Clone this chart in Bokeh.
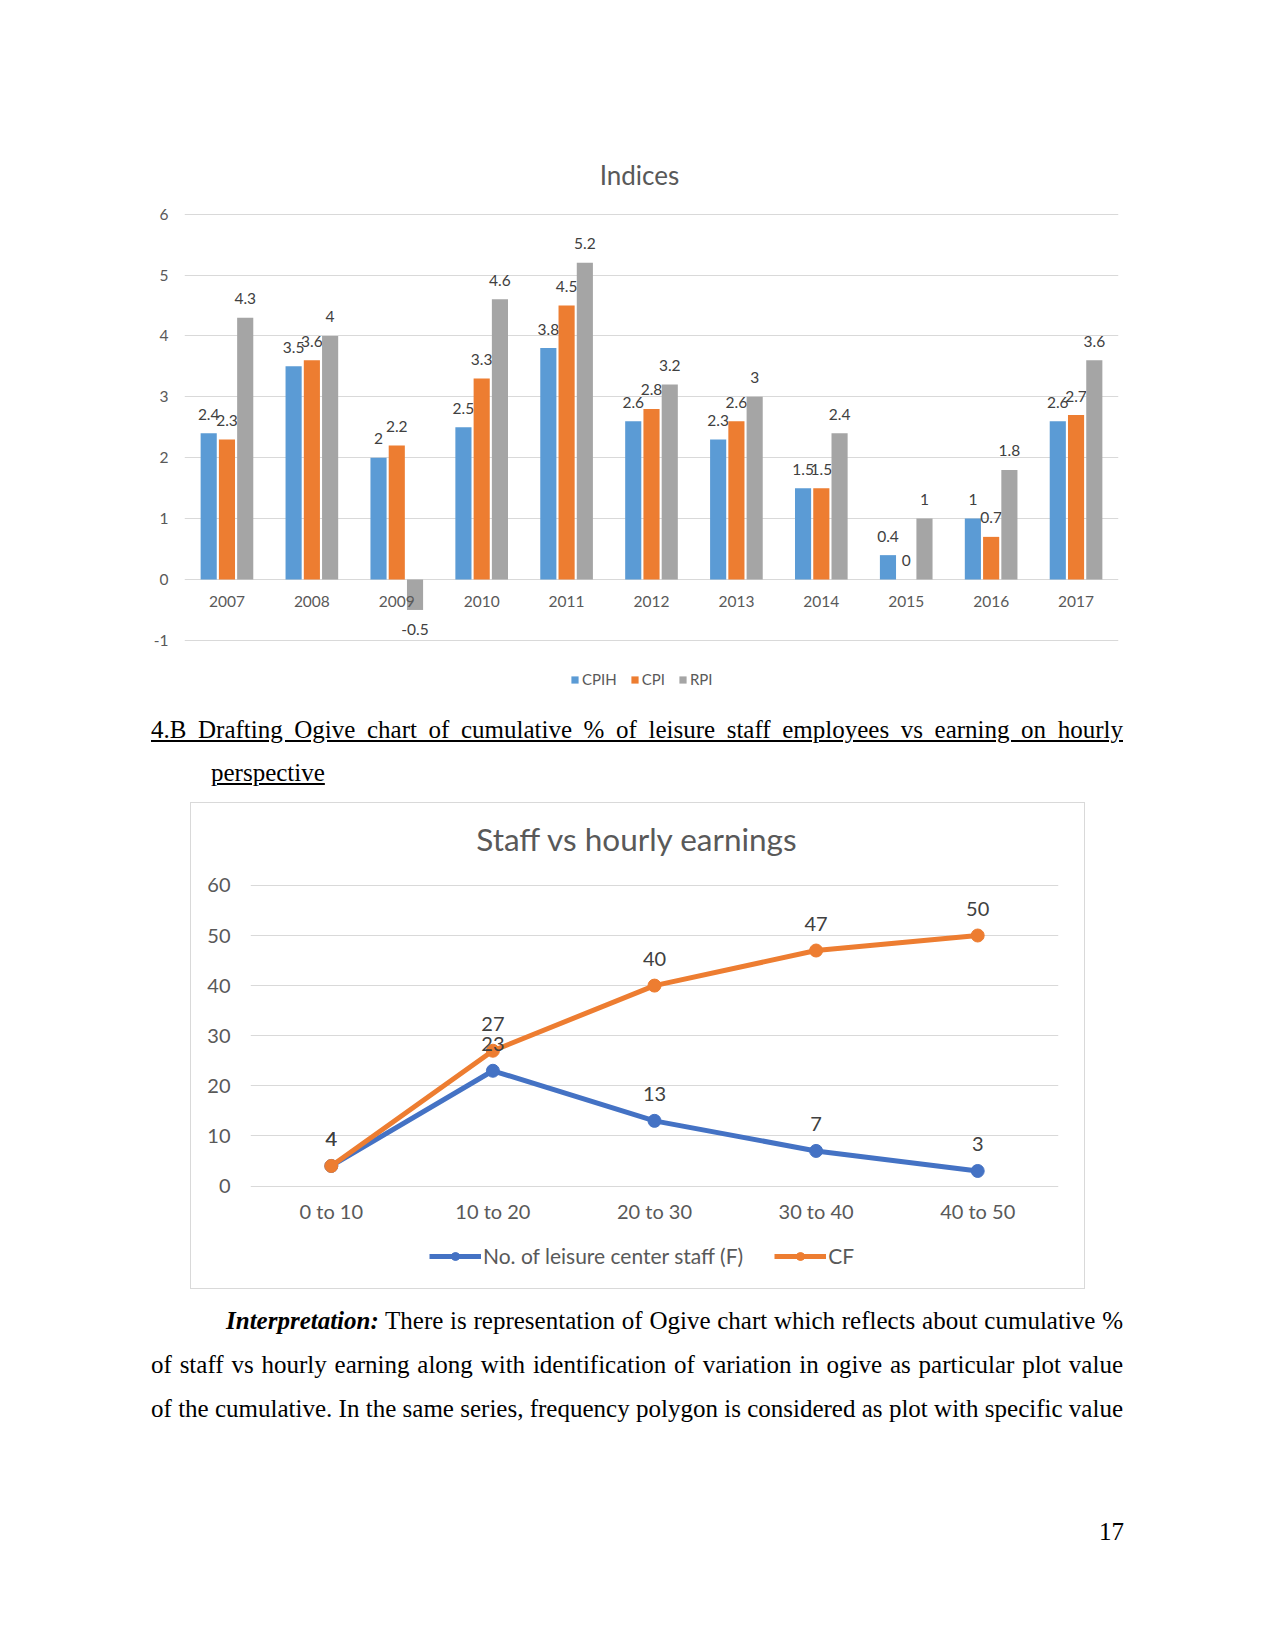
from bokeh.plotting import figure
from bokeh.models import (FactorRange, Range1d, FixedTicker, Div, Spacer,
                          ColumnDataSource, Legend, LegendItem)
from bokeh.layouts import column, row
from bokeh.transform import dodge
from bokeh.core.properties import value
from bokeh.embed import file_html
from bokeh.resources import INLINE

# ---------------- data ----------------
years = ["2007", "2008", "2009", "2010", "2011", "2012", "2013", "2014", "2015", "2016", "2017"]
cpih = [2.4, 3.5, 2.0, 2.5, 3.8, 2.6, 2.3, 1.5, 0.4, 1.0, 2.6]
cpi = [2.3, 3.6, 2.2, 3.3, 4.5, 2.8, 2.6, 1.5, 0.0, 0.7, 2.7]
rpi = [4.3, 4.0, -0.5, 4.6, 5.2, 3.2, 3.0, 2.4, 1.0, 1.8, 3.6]
series_names = ["CPIH", "CPI", "RPI"]
indices_ticks = [-1, 0, 1, 2, 3, 4, 5, 6]

bands = ["0 to 10", "10 to 20", "20 to 30", "30 to 40", "40 to 50"]
staff_f = [4, 23, 13, 7, 3]
cum_f = [4, 27, 40, 47, 50]
staff_ticks = [0, 10, 20, 30, 40, 50, 60]

# ---------------- styles ----------------
FONT = "Lato"
AXIS_GREY = "#595959"
LABEL_GREY = "#404040"
GRID = "#D9D9D9"
BAR_COLORS = ["#5B9BD5", "#ED7D31", "#A5A5A5"]
LINE_COLORS = ["#4472C4", "#ED7D31"]


def fmt(v):
    return str(int(v)) if float(v).is_integer() else str(v)


# ================= Chart 1 : Indices =================
H1 = 700
zero_px, ppu = 579.0, 60.9
y1_start = -(H1 - zero_px) / ppu
y1_end = zero_px / ppu

p1 = figure(width=1275, height=H1, title=None,
            x_range=FactorRange(factors=years, range_padding=0),
            y_range=Range1d(y1_start, y1_end),
            output_backend="svg", toolbar_location=None,
            min_border_left=184, min_border_right=157,
            min_border_top=0, min_border_bottom=0)
p1.outline_line_color = None
p1.xaxis.visible = False
p1.xgrid.visible = False
p1.yaxis.ticker = FixedTicker(ticks=indices_ticks)
p1.ygrid.ticker = FixedTicker(ticks=indices_ticks)
p1.yaxis.major_label_overrides = {t: str(t) for t in indices_ticks}
p1.ygrid.grid_line_color = GRID
p1.yaxis.axis_line_color = None
p1.yaxis.major_tick_line_color = None
p1.yaxis.minor_tick_line_color = None
p1.yaxis.major_tick_out = 0
p1.yaxis.major_tick_in = 0
p1.yaxis.major_label_standoff = 16
p1.yaxis.major_label_text_font = FONT
p1.yaxis.major_label_text_font_size = "15.5px"
p1.yaxis.major_label_text_color = AXIS_GREY

src1 = ColumnDataSource(dict(year=years, cpih=cpih, cpi=cpi, rpi=rpi))
offsets = [-0.215, 0.0, 0.215]
cols = ["cpih", "cpi", "rpi"]
items = []
for name, col, off, color, vals in zip(series_names, cols, offsets, BAR_COLORS, [cpih, cpi, rpi]):
    r = p1.vbar(x=dodge("year", off, range=p1.x_range), top=col, bottom=0, width=0.19,
                source=src1, fill_color=color, line_color=None)
    items.append(LegendItem(label=name, renderers=[r]))
    lsrc = ColumnDataSource(dict(year=years, v=vals, t=[fmt(v) for v in vals],
                                 yo=[-19 if v >= 0 else 20 for v in vals]))
    p1.text(x=dodge("year", off, range=p1.x_range), y="v", text="t", y_offset="yo",
            source=lsrc, text_align="center", text_baseline="middle",
            text_font=value(FONT), text_font_size="15.5px", text_color=LABEL_GREY)

# category labels along the zero line
p1.text(x=years, y=[0] * len(years), text=years, y_offset=22,
        text_align="center", text_baseline="middle",
        text_font=value(FONT), text_font_size="15.5px", text_color=AXIS_GREY)
# title
p1.text(x=[years[len(years) // 2]], y=[(zero_px - 174) / ppu], text=["Indices"], x_offset=-12,
        text_align="center", text_baseline="middle",
        text_font=value(FONT), text_font_size="26px", text_color=AXIS_GREY)

leg1 = Legend(items=items, orientation="horizontal", location=(386, 12),
              glyph_width=9, glyph_height=9, label_standoff=3, spacing=13,
              padding=0, margin=0, border_line_color=None, background_fill_alpha=0,
              label_text_font=FONT, label_text_font_size="15px", label_text_color=AXIS_GREY,
              label_height=9)
p1.add_layout(leg1)

# ================= Heading text =================
heading = Div(width=1275, height=102, margin=0, text=(
    '<div style="position:relative;width:1275px;height:102px;font-family:\'Liberation Serif\';'
    'font-size:25px;color:#000;">'
    '<div style="position:absolute;left:151px;top:8px;box-sizing:content-box;width:912px;padding-left:60px;'
    'text-indent:-60px;line-height:43px;text-align:justify;text-align-last:justify;'
    'text-decoration:underline;">'
    '4.B Drafting Ogive chart of cumulative % of leisure staff employees vs earning on hourly'
    '<br>perspective</div></div>'))

# ================= Chart 2 : Staff vs hourly earnings =================
W2, H2 = 893, 485
top_page, bottom_page = 803.0, 1288.0
zero2, ppu2 = 1185.5, 5.01
y2_start = -(bottom_page - zero2) / ppu2
y2_end = (zero2 - top_page) / ppu2

p2 = figure(width=W2, height=H2, title=None,
            x_range=FactorRange(factors=bands, range_padding=0),
            y_range=Range1d(y2_start, y2_end),
            output_backend="svg", toolbar_location=None,
            min_border_left=59, min_border_right=26,
            min_border_top=0, min_border_bottom=0)
p2.outline_line_color = None
p2.xaxis.visible = False
p2.xgrid.visible = False
p2.yaxis.ticker = FixedTicker(ticks=staff_ticks)
p2.ygrid.ticker = FixedTicker(ticks=staff_ticks)
p2.ygrid.grid_line_color = GRID
p2.yaxis.axis_line_color = None
p2.yaxis.major_tick_line_color = None
p2.yaxis.minor_tick_line_color = None
p2.yaxis.major_tick_out = 0
p2.yaxis.major_tick_in = 0
p2.yaxis.major_label_standoff = 20
p2.yaxis.major_label_text_font = FONT
p2.yaxis.major_label_text_font_size = "20px"
p2.yaxis.major_label_text_color = AXIS_GREY

legend_names = ["No. of leisure center staff (F)", "CF"]
for vals, color, lname in zip([staff_f, cum_f], LINE_COLORS, legend_names):
    p2.line(x=bands, y=vals, line_color=color, line_width=5, line_join="round",
            legend_label=lname)
    p2.scatter(x=bands, y=vals, size=13, fill_color=color, line_color=color,
               legend_label=lname)
for vals in [staff_f, cum_f]:
    p2.text(x=bands, y=vals, text=[fmt(v) for v in vals], y_offset=-27,
            text_align="center", text_baseline="middle",
            text_font=value(FONT), text_font_size="20px", text_color=LABEL_GREY)

p2.text(x=bands, y=[0] * len(bands), text=bands, y_offset=25,
        text_align="center", text_baseline="middle",
        text_font=value(FONT), text_font_size="20px", text_color=AXIS_GREY)
p2.text(x=[bands[2]], y=[(zero2 - 838) / ppu2], text=["Staff vs hourly earnings"], x_offset=-17,
        text_align="center", text_baseline="middle",
        text_font=value(FONT), text_font_size="31.5px", text_color=AXIS_GREY)

lg2 = p2.legend[0]
lg2.orientation = "horizontal"
lg2.location = (179, 20)
lg2.glyph_width = 52
lg2.glyph_height = 20
lg2.label_standoff = 2
lg2.spacing = 31
lg2.padding = 0
lg2.margin = 0
lg2.border_line_color = None
lg2.background_fill_alpha = 0
lg2.label_text_font = FONT
lg2.label_text_font_size = "21px"
lg2.label_text_color = AXIS_GREY

BORDER = {"background-color": "#D9D9D9"}
box_top = row(Spacer(width=190, height=1),
              Div(width=895, height=1, margin=0, styles=BORDER, text=""),
              Spacer(width=190, height=1))
box_mid = row(Spacer(width=190, height=H2),
              Div(width=1, height=H2, margin=0, styles=BORDER, text=""),
              p2,
              Div(width=1, height=H2, margin=0, styles=BORDER, text=""),
              Spacer(width=190, height=H2))
box_bot = row(Spacer(width=190, height=1),
              Div(width=895, height=1, margin=0, styles=BORDER, text=""),
              Spacer(width=190, height=1))

# ================= Interpretation text + page number =================
body = Div(width=1275, height=362, margin=0, text=(
    '<div style="position:relative;width:1275px;height:362px;font-family:\'Liberation Serif\';'
    'font-size:25px;color:#000;">'
    '<div style="position:absolute;left:151px;top:10px;box-sizing:content-box;width:972px;text-indent:75px;'
    'line-height:44px;text-align:justify;text-align-last:justify;">'
    '<b><i>Interpretation:</i></b> There is representation of Ogive chart which reflects about cumulative %'
    '<br>of staff vs hourly earning along with identification of variation in ogive as particular plot value'
    '<br>of the cumulative. In the same series, frequency polygon is considered as plot with specific value'
    '</div>'
    '<div style="position:absolute;right:151px;top:228px;line-height:30px;">17</div>'
    '</div>'))

page = column(p1, heading, box_top, box_mid, box_bot, body, spacing=0)

with open("out.html", "w") as f:
    f.write(file_html(page, INLINE))
